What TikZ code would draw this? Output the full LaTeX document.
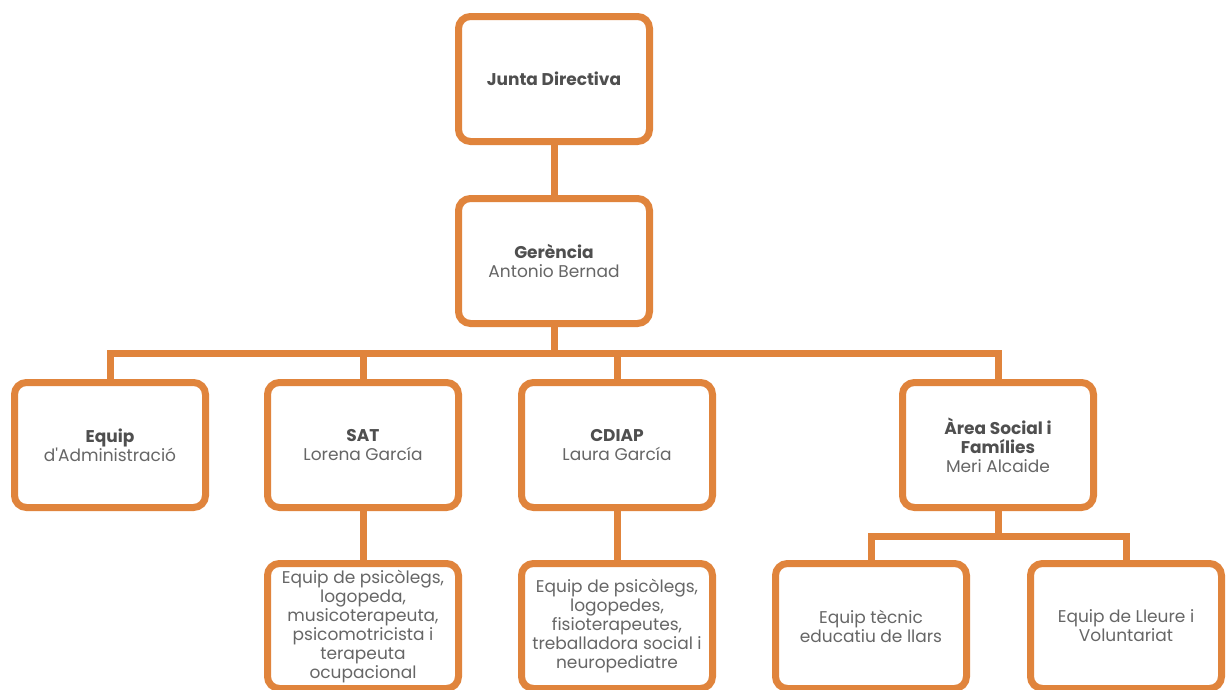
\documentclass[tikz,border=0pt]{standalone}
\usepackage{fontspec}
\setmainfont{Poppins}[Ligatures=TeXOff]
\definecolor{org}{HTML}{E0843C}
\definecolor{txtb}{HTML}{4F4F4F}
\definecolor{txtn}{HTML}{666666}
\begin{document}
\begin{tikzpicture}[x=1pt,y=-1pt,
  box/.style={draw=org, line width=7pt, rounded corners=12pt, minimum width=191pt, minimum height=125pt,
    align=center, font=\fontsize{17}{19}\selectfont, text=txtn, inner sep=0pt},
  conn/.style={draw=org, line width=7pt}]
\useasboundingbox (0,0) rectangle (1226,689);
\clip (0,0) rectangle (1226,689);
\fill[white] (0,0) rectangle (1226,689);
\node[box] (junta) at (554,79) {{\bfseries\color{txtb}Junta Directiva}};
\node[box] (ger) at (554,261) {{\bfseries\color{txtb}Gerència}\\Antonio Bernad};
\node[box] (adm) at (110,445) {{\bfseries\color{txtb}Equip}\\d'Administració};
\node[box] (sat) at (363,445) {{\bfseries\color{txtb}SAT}\\Lorena García};
\node[box] (cdiap) at (617,445) {{\bfseries\color{txtb}CDIAP}\\Laura García};
\node[box] (area) at (998,445) {{\bfseries\color{txtb}Àrea Social i}\\{\bfseries\color{txtb}Famílies}\\Meri Alcaide};
\node[box] (satc) at (363,626) {Equip de psicòlegs,\\logopeda,\\musicoterapeuta,\\psicomotricista i\\terapeuta\\ocupacional};
\node[box] (cdiapc) at (617,626) {Equip de psicòlegs,\\logopedes,\\fisioterapeutes,\\treballadora social i\\neuropediatre};
\node[box] (tec) at (871,626) {Equip tècnic\\educatiu de llars};
\node[box] (lle) at (1126,626) {Equip de Lleure i\\Voluntariat};
\coordinate (bus) at (554,353);
\coordinate (abus) at (998,536);
\draw[conn] (junta.south) -- (ger.north);
\draw[conn] (ger.south) -- (bus);
\draw[conn] (adm.north) |- (bus) -| (area.north);
\draw[conn] (sat.north) -- (sat.north |- bus);
\draw[conn] (cdiap.north) -- (cdiap.north |- bus);
\draw[conn] (sat.south) -- (satc.north);
\draw[conn] (cdiap.south) -- (cdiapc.north);
\draw[conn] (area.south) -- (abus);
\draw[conn] (tec.north) |- (abus) -| (lle.north);
\end{tikzpicture}
\end{document}
